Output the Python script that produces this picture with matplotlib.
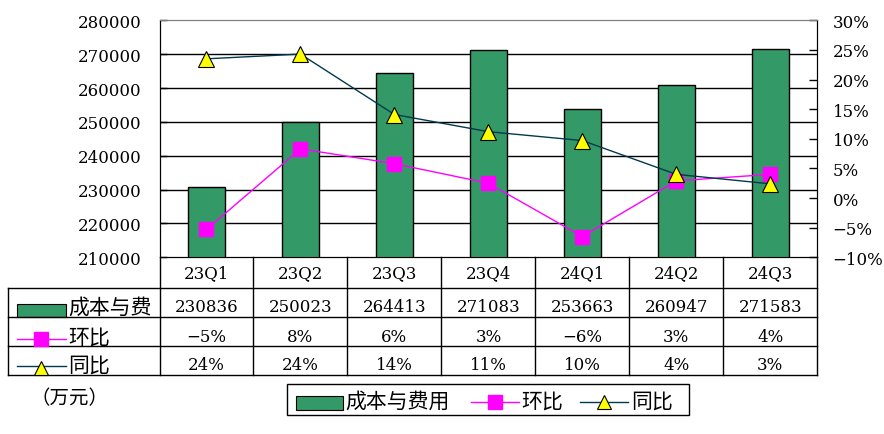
import matplotlib
matplotlib.use("Agg")
import matplotlib.pyplot as plt
from matplotlib.lines import Line2D
from matplotlib.patches import Rectangle
from matplotlib.transforms import blended_transform_factory
from matplotlib.ticker import FixedLocator, FuncFormatter

categories = ['23Q1', '23Q2', '23Q3', '23Q4', '24Q1', '24Q2', '24Q3']
cost = [230836, 250023, 264413, 271083, 253663, 260947, 271583]
qoq = [-5.3, 8.3, 5.8, 2.5, -6.5, 2.9, 4.0]
yoy = [23.5, 24.3, 14.1, 11.2, 9.7, 4.0, 2.4]
qoq_labels = ['−5%', '8%', '6%', '3%', '−6%', '3%', '4%']
yoy_labels = ['24%', '24%', '14%', '11%', '10%', '4%', '3%']
series_names = ['成本与费用', '环比', '同比']
row_names = ['成本与费', '环比', '同比']
unit_label = '（万元）'

BAR = '#339966'
MAG = '#FF00FF'
TEAL = '#003A4F'
YEL = '#FFFF00'
FONT = ['DejaVu Serif', 'Noto Sans CJK SC']
CJK = ['Noto Sans CJK SC', 'DejaVu Sans']

W, H = 884, 435
fig = plt.figure(figsize=(W / 100, H / 100), dpi=100)
fig.patch.set_facecolor('white')

def fx(px):
    return px / W

def fy(py):
    return 1 - py / H

L, R, T, B = 159.5, 817.3, 21.3, 258.3
ax = fig.add_axes([fx(L), fy(B), fx(R) - fx(L), fy(T) - fy(B)])
x = list(range(len(categories)))
ax.bar(x, cost, width=0.4, bottom=0, color=BAR, edgecolor='black', linewidth=1, zorder=3)
ax.set_xlim(-0.5, len(categories) - 0.5)
ax.set_ylim(210000, 280000)
ax.yaxis.set_major_locator(FixedLocator(range(210000, 280001, 10000)))
ax.yaxis.set_major_formatter(FuncFormatter(lambda v, p: f'{int(v)}'))
ax.set_xticks([])
for v in range(220000, 280000, 10000):
    ax.axhline(v, color='black', lw=1, zorder=1)
ax.tick_params(axis='y', direction='in', length=5, pad=13, labelsize=12, width=1)
for lab in ax.get_yticklabels():
    lab.set_fontfamily(FONT)
ax.spines['top'].set_color('#808080')
for s in ['left', 'bottom', 'right']:
    ax.spines[s].set_color('black')

ax2 = ax.twinx()
ax2.set_ylim(-10, 30)
ax2.yaxis.set_major_locator(FixedLocator(range(-10, 31, 5)))
ax2.yaxis.set_major_formatter(FuncFormatter(lambda v, p: f'{int(v)}%'.replace('-', '−')))
ax2.tick_params(axis='y', direction='in', length=6, pad=11, labelsize=12, width=1)
for lab in ax2.get_yticklabels():
    lab.set_fontfamily(FONT)
ax2.spines['top'].set_color('#808080')
ax2.plot(x, qoq, color=MAG, lw=1, marker='s', markersize=10, markerfacecolor=MAG,
         markeredgecolor=MAG, zorder=4)
ax2.plot(x, yoy, color=TEAL, lw=1, marker='^', markersize=11, markerfacecolor=YEL,
         markeredgecolor='black', markeredgewidth=0.8, zorder=5)

# ---- data table ----
bt = blended_transform_factory(ax.transData, fig.transFigure)
rows_y = [258.3, 289.0, 318.3, 347.3, 375.5]
# horizontal lines
for i, yy in enumerate(rows_y[1:]):
    fig.add_artist(Line2D([fx(8.3), fx(R)], [fy(yy), fy(yy)], color='black', lw=1))
# vertical lines
fig.add_artist(Line2D([fx(8.3), fx(8.3)], [fy(289.0), fy(375.5)], color='black', lw=1))
for b in [-0.5] + [i + 0.5 for i in range(len(categories))]:
    fig.add_artist(Line2D([b, b], [fy(258.3), fy(375.5)], color='black', lw=1, transform=bt))

cy = [274.0, 308.0, 338.0, 365.5]
for i, c in enumerate(categories):
    fig.text(i, fy(cy[0]), c, transform=bt, ha='center', va='center', fontsize=12, family=FONT)
    fig.text(i, fy(cy[1]), str(cost[i]), transform=bt, ha='center', va='center', fontsize=12, family=FONT)
    fig.text(i, fy(cy[2]), qoq_labels[i], transform=bt, ha='center', va='center', fontsize=12, family=FONT)
    fig.text(i, fy(cy[3]), yoy_labels[i], transform=bt, ha='center', va='center', fontsize=12, family=FONT)

# row labels with legend keys
fig.add_artist(Rectangle((fx(17), fy(317.5)), fx(66) - fx(17), fy(305) - fy(317.5),
                         facecolor=BAR, edgecolor='black', lw=0.8))
fig.add_artist(Line2D([fx(17), fx(66)], [fy(340), fy(340)], color=MAG, lw=1))
fig.add_artist(Line2D([fx(41)], [fy(339.5)], marker='s', markersize=10, color=MAG, lw=0))
fig.add_artist(Line2D([fx(17), fx(66)], [fy(367), fy(367)], color=TEAL, lw=1))
fig.add_artist(Line2D([fx(41)], [fy(369)], marker='^', markersize=10, markerfacecolor=YEL,
                      markeredgecolor='black', markeredgewidth=0.8, lw=0))
for yy, name in zip(cy[1:], row_names):
    fig.text(fx(68), fy(yy), name, ha='left', va='center', fontsize=15, family=CJK)

fig.text(fx(30), fy(399), unit_label, ha='left', va='center', fontsize=14, family=CJK)

# ---- legend ----
fig.add_artist(Rectangle((fx(287), fy(416)), fx(689) - fx(287), fy(385) - fy(416),
                         facecolor='white', edgecolor='black', lw=1))
fig.add_artist(Rectangle((fx(296), fy(411)), fx(343) - fx(296), fy(397) - fy(411),
                         facecolor=BAR, edgecolor='black', lw=0.8))
fig.text(fx(345), fy(402), series_names[0], ha='left', va='center', fontsize=15, family=CJK)
fig.add_artist(Line2D([fx(471), fx(519)], [fy(403), fy(403)], color=MAG, lw=1))
fig.add_artist(Line2D([fx(495)], [fy(403)], marker='s', markersize=10, color=MAG, lw=0))
fig.text(fx(521), fy(402), series_names[1], ha='left', va='center', fontsize=15, family=CJK)
fig.add_artist(Line2D([fx(580), fx(628)], [fy(403), fy(403)], color=TEAL, lw=1))
fig.add_artist(Line2D([fx(604)], [fy(403)], marker='^', markersize=10, markerfacecolor=YEL,
                      markeredgecolor='black', markeredgewidth=0.8, lw=0))
fig.text(fx(631), fy(402), series_names[2], ha='left', va='center', fontsize=15, family=CJK)

fig.savefig('out.png', dpi=100, facecolor='white')
